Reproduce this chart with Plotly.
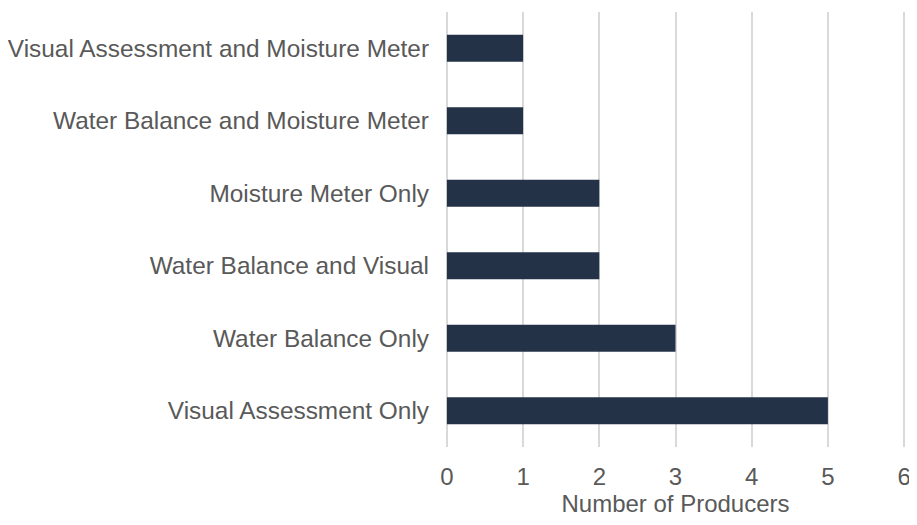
import plotly.graph_objects as go

categories = [
    "Visual Assessment Only",
    "Water Balance Only",
    "Water Balance and Visual",
    "Moisture Meter Only",
    "Water Balance and Moisture Meter",
    "Visual Assessment and Moisture Meter",
]
values = [5, 3, 2, 2, 1, 1]
x_ticks = [0, 1, 2, 3, 4, 5, 6]

fig = go.Figure(go.Bar(
    y=categories, x=values, orientation="h",
    marker=dict(color="#243247", line=dict(width=0)),
    width=0.37,
))

font = dict(family="Liberation Sans, Arial, sans-serif", size=24, color="#595959")
fig.update_layout(
    template="none",
    width=909, height=509,
    margin=dict(l=437, r=11, t=4, b=70),
    plot_bgcolor="white", paper_bgcolor="white",
    font=font,
    showlegend=False,
    xaxis=dict(
        automargin=False,
        range=[-0.025, 6.025], tickvals=x_ticks, showgrid=True, gridcolor="#d9d9d9", gridwidth=1.5,
        zeroline=False, showline=False, ticks="", ticklabelstandoff=13,
        title=dict(text="Number of Producers", font=font, standoff=15),
    ),
    yaxis=dict(
        automargin=False,
        categoryorder="array", categoryarray=categories,
        showgrid=False, zeroline=False, showline=False, ticks="", ticklabelstandoff=15,
        tickfont=dict(family="Liberation Sans, Arial, sans-serif", size=24.4, color="#595959"),
        range=[-0.5, 5.5],
    ),
)
fig.write_html("out.html")
